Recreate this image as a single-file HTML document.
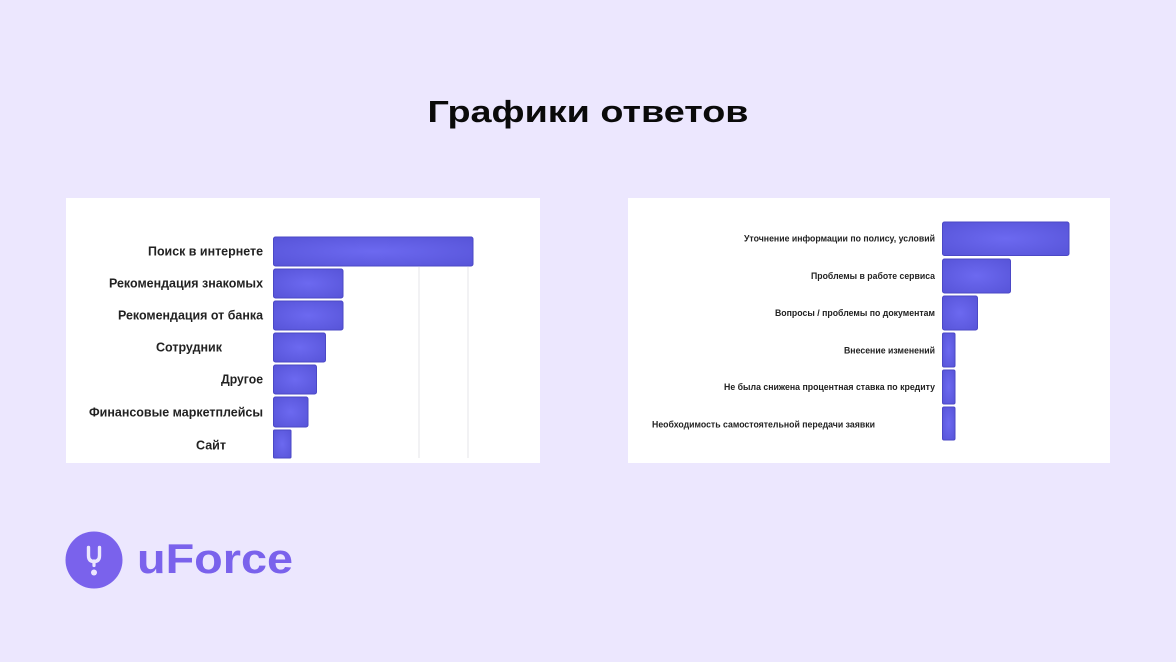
<!DOCTYPE html>
<html><head><meta charset="utf-8"><style>
html,body{margin:0;padding:0;background:#ece7fe;}
svg{display:block;}
</style></head><body>
<svg width="1176" height="662" viewBox="0 0 1176 662" xmlns="http://www.w3.org/2000/svg">
<defs>
<radialGradient id="g" cx="0.5" cy="0.5" r="0.7">
<stop offset="0" stop-color="#6c69f0"/>
<stop offset="1" stop-color="#5754d8"/>
</radialGradient>
</defs>
<rect x="0" y="0" width="1176" height="662" fill="#ece7fe"/>
<text x="588" y="122" text-anchor="middle" font-family="Liberation Sans, sans-serif" font-weight="bold" font-size="31" fill="#0a0a0a" textLength="321" lengthAdjust="spacingAndGlyphs">Графики ответов</text>

<!-- Left panel -->
<rect x="66" y="198" width="474" height="265" fill="#ffffff"/>
<line x1="419" y1="267" x2="419" y2="458" stroke="#e4e4ea" stroke-width="1"/>
<line x1="468" y1="267" x2="468" y2="458" stroke="#e4e4ea" stroke-width="1"/>
<g fill="url(#g)" stroke="#4b48c6" stroke-width="1">
<rect x="273.5" y="237" width="199.5" height="29" rx="2"/>
<rect x="273.5" y="269" width="69.5" height="29" rx="2"/>
<rect x="273.5" y="301" width="69.5" height="29" rx="2"/>
<rect x="273.5" y="333" width="52" height="29" rx="2"/>
<rect x="273.5" y="365" width="43" height="29" rx="2"/>
<rect x="273.5" y="397" width="34.5" height="30" rx="2"/>
<rect x="273.5" y="430" width="17.5" height="28" rx="1"/>
</g>
<g font-family="Liberation Sans, sans-serif" font-weight="bold" font-size="13" fill="#222222" text-anchor="end">
<text x="263" y="255.5" textLength="115" lengthAdjust="spacingAndGlyphs">Поиск в интернете</text>
<text x="263" y="287.5" textLength="154" lengthAdjust="spacingAndGlyphs">Рекомендация знакомых</text>
<text x="263" y="319.5" textLength="145" lengthAdjust="spacingAndGlyphs">Рекомендация от банка</text>
<text x="222" y="351.5" textLength="66" lengthAdjust="spacingAndGlyphs">Сотрудник</text>
<text x="263" y="383.5" textLength="42" lengthAdjust="spacingAndGlyphs">Другое</text>
<text x="263" y="416.5" textLength="174" lengthAdjust="spacingAndGlyphs">Финансовые маркетплейсы</text>
<text x="226" y="449.5" textLength="30" lengthAdjust="spacingAndGlyphs">Сайт</text>
</g>

<!-- Right panel -->
<rect x="628" y="198" width="482" height="265" fill="#ffffff"/>
<g fill="url(#g)" stroke="#4b48c6" stroke-width="1">
<rect x="942.5" y="222" width="126.5" height="33.5" rx="2"/>
<rect x="942.5" y="259" width="68" height="34" rx="2"/>
<rect x="942.5" y="296" width="35" height="34" rx="2"/>
<rect x="942.5" y="333" width="12.5" height="34" rx="1.5"/>
<rect x="942.5" y="370" width="12.5" height="34" rx="1.5"/>
<rect x="942.5" y="407" width="12.5" height="33" rx="1.5"/>
</g>
<g font-family="Liberation Sans, sans-serif" font-weight="bold" font-size="9" fill="#222222">
<text x="935" y="241.5" text-anchor="end" textLength="191" lengthAdjust="spacingAndGlyphs">Уточнение информации по полису, условий</text>
<text x="935" y="279" text-anchor="end" textLength="124" lengthAdjust="spacingAndGlyphs">Проблемы в работе сервиса</text>
<text x="935" y="316" text-anchor="end" textLength="160" lengthAdjust="spacingAndGlyphs">Вопросы / проблемы по документам</text>
<text x="935" y="353.3" text-anchor="end" textLength="91" lengthAdjust="spacingAndGlyphs">Внесение изменений</text>
<text x="935" y="390" text-anchor="end" textLength="211" lengthAdjust="spacingAndGlyphs">Не была снижена процентная ставка по кредиту</text>
<text x="652" y="427.3" textLength="223" lengthAdjust="spacingAndGlyphs">Необходимость самостоятельной передачи заявки</text>
</g>

<!-- Logo -->
<circle cx="94" cy="560" r="28.5" fill="#7a62ec"/>
<path d="M88.5 547.5 V555.5 Q88.5 561.5 94 561.5 Q99.5 561.5 99.5 555.5 V547.5" fill="none" stroke="#ece7fe" stroke-width="3.4" stroke-linecap="round" stroke-linejoin="round"/>
<line x1="94" y1="561" x2="94" y2="565.5" stroke="#ece7fe" stroke-width="3.2" stroke-linecap="round"/>
<circle cx="94" cy="572.5" r="3" fill="#ece7fe"/>
<text x="137" y="573" font-family="Liberation Sans, sans-serif" font-weight="bold" font-size="42" fill="#7a62ec" textLength="156" lengthAdjust="spacingAndGlyphs">uForce</text>
</svg>
</body></html>
